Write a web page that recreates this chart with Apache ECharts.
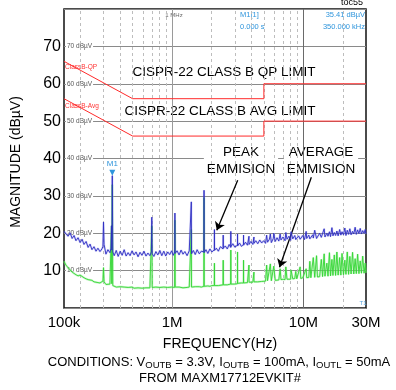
<!DOCTYPE html>
<html>
<head>
<meta charset="utf-8">
<title>toc55</title>
<script src="https://cdn.jsdelivr.net/npm/echarts@6/dist/echarts.min.js"></script>
<style>
    html, body { margin: 0; padding: 0; background: #fff; }
    #main { width: 396px; height: 390px; }
</style>
</head>
<body>
<div id="main"></div>
<script>
// conducted emission scan, MHz / dBuV
var freqMHz = [
    0.150, 0.155, 0.161, 0.167, 0.173, 0.179, 0.185, 0.192, 0.199, 0.206,
    0.213, 0.221, 0.229, 0.237, 0.245, 0.254, 0.263, 0.272, 0.282, 0.292,
    0.297, 0.300, 0.303, 0.313, 0.324, 0.336, 0.342, 0.345, 0.347, 0.350,
    0.353, 0.362, 0.375, 0.388, 0.402, 0.416, 0.431, 0.446, 0.462, 0.478,
    0.495, 0.513, 0.531, 0.550, 0.569, 0.589, 0.610, 0.632, 0.654, 0.677,
    0.695, 0.700, 0.705, 0.726, 0.752, 0.778, 0.806, 0.834, 0.864, 0.894,
    0.926, 0.958, 0.992, 1.020, 1.045, 1.050, 1.055, 1.090, 1.130, 1.170,
    1.210, 1.250, 1.300, 1.350, 1.395, 1.400, 1.405, 1.450, 1.500, 1.550,
    1.610, 1.670, 1.745, 1.750, 1.755, 1.810, 1.870, 1.940, 2.010, 2.095,
    2.100, 2.105, 2.170, 2.250, 2.330, 2.445, 2.450, 2.455, 2.540, 2.630,
    2.720, 2.795, 2.800, 2.805, 2.900, 3.000, 3.145, 3.150, 3.155, 3.260,
    3.370, 3.495, 3.500, 3.505, 3.620, 3.750, 3.845, 3.850, 3.855, 3.980,
    4.120, 4.195, 4.200, 4.205, 4.340, 4.490, 4.650, 4.810, 4.980, 5.150,
    5.250, 5.330, 5.510, 5.600, 5.700, 5.900, 5.950, 6.100, 6.300, 6.500,
    6.650, 6.750, 7.000, 7.250, 7.350, 7.500, 7.750, 8.000, 8.050, 8.300,
    8.600, 8.750, 8.900, 9.200, 9.450, 9.550, 9.900, 10.20, 10.50, 10.60,
    11.00, 11.20, 11.40, 11.80, 11.90, 12.20, 12.60, 12.80, 13.30, 13.70,
    14.00, 14.40, 14.60, 15.10, 15.40, 15.80, 16.10, 16.50, 16.80, 17.20,
    17.60, 18.00, 18.40, 18.90, 19.30, 19.70, 20.20, 20.70, 21.10, 21.60,
    22.10, 22.60, 23.10, 23.70, 24.20, 24.80, 25.30, 25.90, 26.50, 27.10,
    27.70, 28.30, 29.00, 29.60, 30.00
];
var peakDbuv = [
    20.5, 20.0, 19.2, 20.1, 18.6, 19.4, 18.0, 18.8, 17.5, 18.4,
    17.0, 17.8, 16.2, 17.1, 15.6, 16.4, 15.2, 16.0, 15.1, 15.8,
    16.5, 23.0, 17.0, 14.4, 15.6, 14.8, 16.0, 22.0, 15.5, 35.4,
    15.0, 14.0, 15.4, 13.8, 15.2, 14.1, 15.6, 13.9, 14.8, 14.0,
    15.3, 14.2, 15.0, 13.7, 14.9, 14.1, 15.2, 13.9, 14.7, 14.0,
    15.0, 24.3, 14.5, 13.8, 15.1, 14.2, 15.4, 14.0, 15.2, 13.9,
    15.0, 14.3, 15.3, 14.1, 15.0, 25.4, 14.6, 15.3, 14.2, 15.5,
    14.4, 15.1, 14.0, 15.3, 14.8, 28.4, 14.5, 15.4, 14.3, 15.6,
    14.5, 15.2, 15.0, 31.5, 14.8, 15.6, 14.6, 15.8, 15.0, 15.6,
    21.0, 15.4, 16.0, 15.2, 16.4, 15.8, 19.5, 16.0, 16.6, 15.8,
    17.0, 16.2, 20.5, 16.4, 17.2, 16.3, 16.8, 19.8, 16.6, 17.4,
    16.5, 17.0, 19.5, 16.8, 17.6, 16.8, 17.2, 19.2, 17.0, 17.8,
    17.0, 17.5, 19.0, 17.3, 18.0, 17.2, 18.2, 17.4, 18.0, 17.3,
    19.5, 17.6, 18.4, 19.8, 17.5, 18.6, 20.0, 17.8, 18.8, 17.9,
    19.8, 18.2, 19.0, 18.0, 20.2, 18.4, 19.2, 18.1, 20.4, 18.5,
    19.4, 18.3, 18.0, 19.3, 18.4, 18.1, 19.4, 18.3, 20.5, 18.6,
    19.5, 18.5, 18.4, 19.6, 18.7, 20.8, 18.6, 19.0, 20.0, 18.9,
    19.4, 21.2, 19.0, 20.0, 19.2, 20.4, 19.1, 21.5, 19.3, 20.2,
    19.4, 20.6, 19.3, 21.0, 19.5, 20.4, 19.6, 21.4, 19.4, 20.8,
    19.7, 21.2, 19.6, 20.5, 19.8, 21.6, 19.7, 20.9, 19.9, 21.3,
    19.8, 20.7, 20.0, 21.0, 19.8
];
var avgDbuv = [
    12.5, 11.5, 10.8, 10.2, 9.6, 9.3, 8.9, 8.6, 8.8, 9.2,
    8.1, 7.8, 7.6, 7.3, 7.4, 7.0, 6.9, 6.8, 6.7, 6.9,
    7.2, 10.8, 7.0, 6.3, 6.2, 6.4, 6.5, 22.0, 6.5, 33.0,
    6.0, 5.8, 5.6, 5.5, 5.7, 5.4, 5.6, 5.3, 5.5, 5.4,
    5.6, 5.3, 5.5, 5.4, 5.6, 5.3, 5.5, 5.4, 5.6, 5.4,
    5.5, 22.0, 5.5, 5.4, 5.6, 5.3, 5.5, 5.4, 5.6, 5.3,
    5.5, 5.4, 5.6, 5.4, 5.5, 23.5, 5.6, 5.4, 5.6, 5.5,
    5.4, 5.6, 5.5, 5.6, 5.5, 21.0, 5.6, 5.5, 5.7, 5.6,
    5.7, 5.6, 5.8, 29.5, 5.8, 5.7, 5.9, 5.8, 6.0, 6.0,
    12.0, 6.0, 6.1, 6.0, 6.2, 6.2, 12.8, 6.2, 6.3, 6.2,
    6.4, 6.4, 15.5, 6.4, 6.5, 6.4, 6.5, 15.0, 6.6, 6.6,
    6.7, 6.7, 12.8, 6.7, 6.8, 6.8, 6.9, 11.5, 6.9, 7.0,
    6.9, 7.0, 9.6, 7.0, 7.1, 7.0, 7.2, 7.1, 7.3, 7.2,
    11.5, 7.3, 7.4, 11.8, 7.3, 7.5, 11.2, 7.4, 7.6, 7.5,
    10.5, 7.6, 7.7, 7.6, 11.0, 7.7, 7.8, 7.7, 10.2, 7.8,
    7.9, 9.8, 7.8, 8.0, 11.0, 7.9, 8.1, 8.0, 10.5, 8.1,
    8.2, 12.5, 8.1, 8.3, 13.5, 8.2, 14.0, 8.3, 8.4, 13.0,
    8.4, 14.5, 8.5, 12.0, 8.5, 14.8, 8.6, 13.0, 8.7, 14.2,
    8.7, 15.0, 8.8, 13.5, 8.8, 14.6, 8.9, 12.8, 9.0, 15.0,
    9.0, 13.8, 9.1, 14.9, 9.1, 13.2, 9.2, 14.4, 9.2, 12.6,
    9.3, 13.9, 9.3, 12.0, 9.4
];

// CISPR-22 class B limits
var limitFreq = [0.15, 0.5, 5, 5, 30];
var qpLimit = [66, 56, 56, 60, 60];
var avgLimit = [56, 46, 46, 50, 50];

var minorGridFreq = [0.2, 0.3, 0.4, 0.5, 0.6, 0.7, 0.8, 0.9, 2, 3, 4, 5, 6, 7, 8, 9, 20];
var xTickValues = [0.15, 1, 10, 30];
var xTickLabels = ['100k', '1M', '10M', '30M'];
var yTickValues = [10, 20, 30, 40, 50, 60, 70];

var markerFreq = 0.35;
var markerLevel = 35.41;

// arrow start / tip in data space
var peakArrow = [[3.16, 34.2], [2.19, 20.8]];
var avgArrow = [[11.5, 35.0], [6.58, 10.9]];

var FONT = '"Liberation Sans", Arial, sans-serif';

var pairs = function (xs, ys) {
    return xs.map(function (x, i) {
        return [x, ys[i]];
    });
};

var chart = echarts.init(document.getElementById('main'));

var option = {
    animation: false,
    grid: {
        left: 64, right: 30, top: 9, bottom: 82,
        show: true,
        backgroundColor: '#fff',
        borderColor: '#111',
        borderWidth: 1.5
    },
    xAxis: {
        type: 'log',
        logBase: 10,
        min: 0.15,
        max: 30,
        axisLine: {show: false},
        axisTick: {show: false},
        splitLine: {show: false},
        axisLabel: {
            customValues: xTickValues,
            margin: 7,
            fontSize: 15,
            fontFamily: FONT,
            color: '#000',
            formatter: function (v) {
                var best = 0;
                for (var i = 1; i < xTickValues.length; ++i) {
                    if (Math.abs(Math.log(v / xTickValues[i])) < Math.abs(Math.log(v / xTickValues[best]))) {
                        best = i;
                    }
                }
                return xTickLabels[best];
            }
        }
    },
    yAxis: {
        type: 'value',
        min: 0,
        max: 80,
        interval: 10,
        axisLine: {show: false},
        axisTick: {show: false},
        axisLabel: {
            customValues: yTickValues,
            margin: 3,
            fontSize: 16,
            fontFamily: FONT,
            color: '#000'
        },
        splitLine: {
            show: true,
            lineStyle: {color: '#8a8a8a', width: 1}
        }
    },
    series: [{
        // vertical analyzer grid
        type: 'line',
        z: 1,
        data: [],
        markLine: {
            silent: true,
            symbol: 'none',
            label: {show: false},
            lineStyle: {type: [3, 3], color: '#bdbdbd', width: 1},
            data: minorGridFreq.map(function (f) {
                return {xAxis: f};
            })
        }
    }, {
        type: 'line',
        z: 1,
        data: [],
        markLine: {
            silent: true,
            symbol: 'none',
            label: {show: false},
            data: [
                {xAxis: 1, lineStyle: {type: 'solid', color: '#9a9a9a', width: 1}},
                {xAxis: 10, lineStyle: {type: 'solid', color: '#6a6a6a', width: 1}}
            ]
        }
    }, {
        name: 'avgHold',
        type: 'line',
        z: 5,
        showSymbol: false,
        data: pairs(freqMHz, avgDbuv),
        lineStyle: {color: 'rgba(140, 235, 140, 0.45)', width: 2.2}
    }, {
        name: 'avg',
        type: 'line',
        z: 6,
        showSymbol: false,
        data: pairs(freqMHz, avgDbuv),
        lineStyle: {color: '#33d633', width: 0.9}
    }, {
        name: 'peakHold',
        type: 'line',
        z: 5,
        showSymbol: false,
        data: pairs(freqMHz, peakDbuv),
        lineStyle: {color: 'rgba(130, 130, 235, 0.3)', width: 2.2}
    }, {
        name: 'peak',
        type: 'line',
        z: 7,
        showSymbol: false,
        data: pairs(freqMHz, peakDbuv),
        lineStyle: {color: '#2d2dc2', width: 0.9},
        markPoint: {
            silent: true,
            symbol: 'triangle',
            symbolRotate: 180,
            symbolSize: [6, 6],
            symbolOffset: [0, -3],
            itemStyle: {color: '#2f95dc'},
            label: {
                show: true,
                position: 'top',
                distance: 2,
                formatter: 'M1',
                fontSize: 8,
                fontFamily: FONT,
                color: '#2f95dc'
            },
            data: [{coord: [markerFreq, markerLevel]}]
        }
    }, {
        name: 'qp',
        type: 'line',
        z: 6,
        showSymbol: false,
        data: pairs(limitFreq, qpLimit),
        lineStyle: {color: '#ff2a2a', width: 1}
    }, {
        name: 'avgLimit',
        type: 'line',
        z: 6,
        showSymbol: false,
        data: pairs(limitFreq, avgLimit),
        lineStyle: {color: '#ff2a2a', width: 1}
    }, {
        // annotation arrows
        type: 'line',
        z: 8,
        data: [],
        markLine: {
            silent: true,
            symbol: ['none', 'arrow'],
            symbolSize: 8,
            label: {show: false},
            lineStyle: {type: 'solid', color: '#000', width: 1.3},
            data: [
                [{coord: peakArrow[0]}, {coord: peakArrow[1]}],
                [{coord: avgArrow[0]}, {coord: avgArrow[1]}]
            ]
        }
    }]
};
chart.setOption(option);

var txt = function (x, y, text, size, color, align, extra) {
    var el = {
        type: 'text',
        x: x,
        y: y,
        z: 3,
        style: {
            text: text,
            fontSize: size,
            fontFamily: FONT,
            fill: color,
            textAlign: align, align: align,
            textVerticalAlign: 'middle', verticalAlign: 'middle'
        }
    };
    for (var k in extra) {
        el.style[k] = extra[k];
    }
    return el;
};

var gfx = [];
yTickValues.forEach(function (v) {
    var p = chart.convertToPixel({xAxisIndex: 0, yAxisIndex: 0}, [0.15, v]);
    gfx.push(txt(p[0] + 2, p[1], v + ' dBµV', 6.5, '#555', 'left', {backgroundColor: '#fff', padding: [0, 1]}));
});
gfx.push(txt(65, 67, 'ClassB-QP', 6.5, '#ff3333', 'left'));
gfx.push(txt(65, 106, 'ClassB-Avg', 6.5, '#ff3333', 'left'));
gfx.push(txt(174, 15, '1 MHz', 6, '#666', 'center'));
gfx.push(txt(240, 15, 'M1[1]', 7.5, '#2f95dc', 'left'));
gfx.push(txt(240, 27, '0.000 s', 7.5, '#2f95dc', 'left'));
gfx.push(txt(365, 15, '35.41 dBµV', 7.5, '#2f95dc', 'right'));
gfx.push(txt(365, 27, '350.000 kHz', 7.5, '#2f95dc', 'right'));
gfx.push(txt(363, 3, 'toc55', 9, '#000', 'right'));
gfx.push(txt(363, 303, 'T1', 6, '#5aa6e0', 'center'));
gfx.push(txt(224, 72, 'CISPR-22 CLASS B QP LIMIT', 13.5, '#000', 'center'));
gfx.push(txt(220, 111, 'CISPR-22 CLASS B AVG LIMIT', 13.5, '#000', 'center'));
gfx.push(txt(241, 161, 'PEAK\nEMMISION', 13.5, '#000', 'center',
    {lineHeight: 17, backgroundColor: '#fff', padding: [2, 3]}));
gfx.push(txt(321, 161, 'AVERAGE\nEMMISION', 13.5, '#000', 'center',
    {lineHeight: 17, backgroundColor: '#fff', padding: [2, 3]}));
gfx.push(txt(220, 344, 'FREQUENCY(Hz)', 14, '#000', 'center'));
gfx.push(txt(219, 362, 'CONDITIONS: V{s|OUTB} = 3.3V, I{s|OUTB} = 100mA, I{s|OUTL} = 50mA', 13, '#000', 'center',
    {rich: {s: {fontSize: 9.5, fontFamily: FONT, fill: '#000', padding: [7, 0, 0, 0]}}}));
gfx.push(txt(220, 378, 'FROM MAXM17712EVKIT#', 13, '#000', 'center'));

var yTitle = txt(16, 162, 'MAGNITUDE (dBµV)', 14, '#000', 'center');
yTitle.rotation = Math.PI / 2;
gfx.push(yTitle);

chart.setOption({graphic: {elements: gfx}});
</script>
</body>
</html>
